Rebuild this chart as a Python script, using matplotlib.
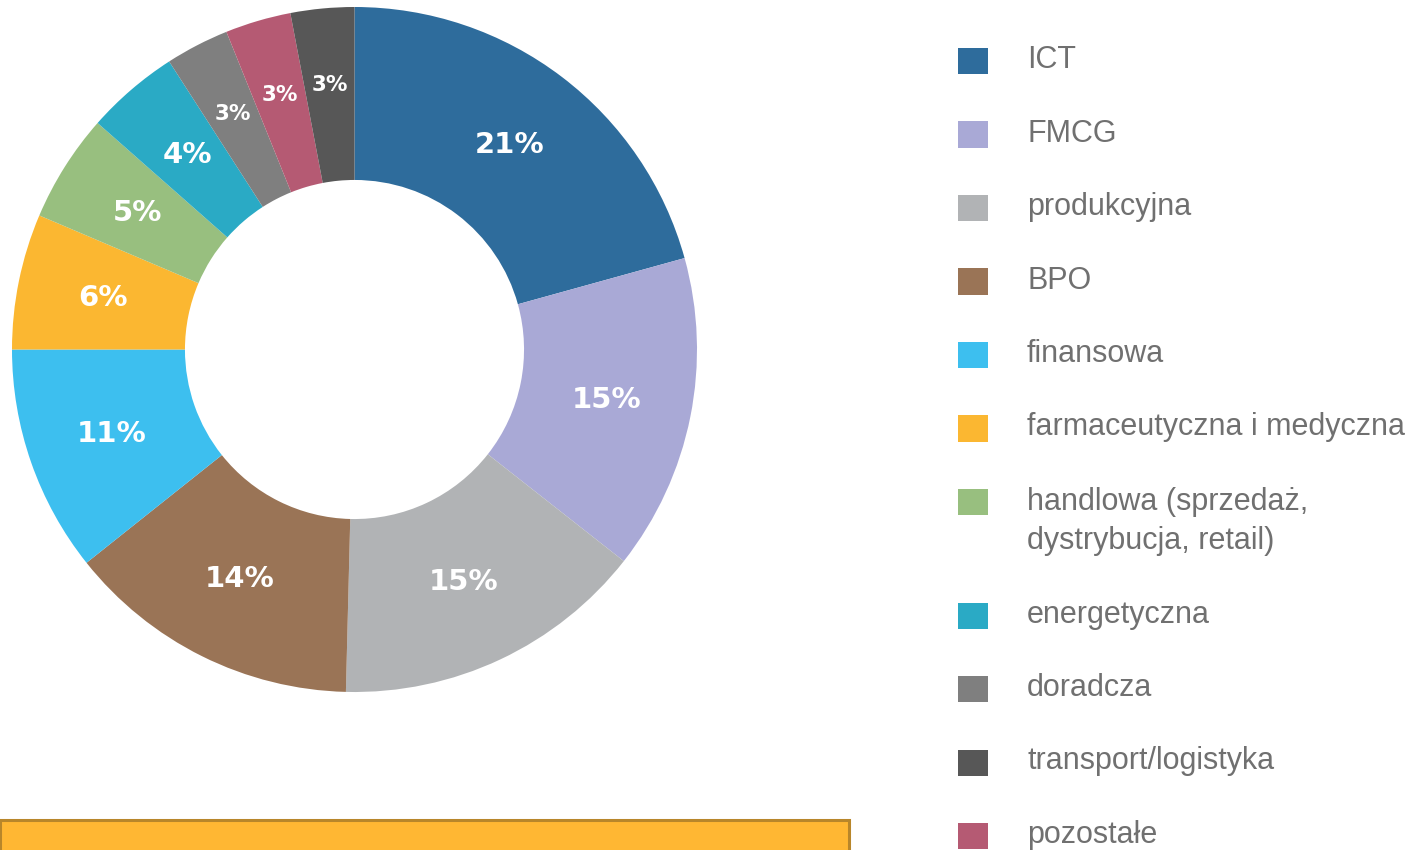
import matplotlib
matplotlib.use("Agg")
import matplotlib.pyplot as plt
from matplotlib.patches import Rectangle
from matplotlib import font_manager as fm

categories = ["ICT", "FMCG", "produkcyjna", "BPO", "finansowa",
              "farmaceutyczna i medyczna", "handlowa (sprzedaż,\ndystrybucja, retail)",
              "energetyczna", "doradcza", "pozostałe", "transport/logistyka"]
values = [20.7, 14.9, 14.8, 13.9, 10.7, 6.4, 5.1, 4.4, 3.0, 3.1, 3.0]
colors = ["#2E6C9C", "#A9A9D6", "#B1B3B5", "#9A7456", "#3DBFEF", "#FBB731",
          "#98BF7F", "#2AAAC5", "#7F7F7F", "#B55A73", "#575757"]
legend_order = ["ICT", "FMCG", "produkcyjna", "BPO", "finansowa",
                "farmaceutyczna i medyczna", "handlowa (sprzedaż,\ndystrybucja, retail)",
                "energetyczna", "doradcza", "transport/logistyka", "pozostałe"]

W, H = 1410, 850
fig = plt.figure(figsize=(W / 100, H / 100), dpi=100)

ax = fig.add_axes([12 / W, (H - 692) / H, 685 / W, 685 / H])
wedges, texts, autotexts = ax.pie(
    values, colors=colors, startangle=90, counterclock=False,
    radius=1.0, autopct="%.0f%%", pctdistance=0.75,
    wedgeprops=dict(width=0.505, edgecolor="none"))
for v, t in zip(values, autotexts):
    t.set_color("white")
    t.set_fontweight("bold")
    if v >= 4:
        t.set_fontsize(21)
    else:
        t.set_fontsize(15.5)
        x0, y0 = t.get_position()
        t.set_position((x0 * 0.775 / 0.75, y0 * 0.775 / 0.75))
ax.set_xlim(-1, 1)
ax.set_ylim(-1, 1)
ax.set_aspect("equal")
ax.axis("off")

names = sorted({f.name for f in fm.fontManager.ttflist})
legend_font = "Liberation Sans Narrow" if "Liberation Sans Narrow" in names else "Liberation Sans"

cmap = dict(zip(categories, colors))
y = 61.0
step = 73.5
for lab in legend_order:
    fig.patches.append(Rectangle((958 / W, 1 - (y + 13) / H), 30 / W, 26 / H,
                                 transform=fig.transFigure, facecolor=cmap[lab],
                                 edgecolor="none"))
    multi = "\n" in lab
    fig.text(1027 / W, 1 - (y - 1 - (14 if multi else 0)) / H, lab,
             family=legend_font, fontsize=22,
             color="#707070", va="top" if multi else "center",
             ha="left", linespacing=1.4)
    y += step + (40 if multi else 0)

fig.patches.append(Rectangle((0, -20 / H), 849 / W, 50 / H,
                             transform=fig.transFigure, facecolor="#FFB733",
                             edgecolor="#B8862A", linewidth=2.2))

fig.savefig("out.png", dpi=100)
